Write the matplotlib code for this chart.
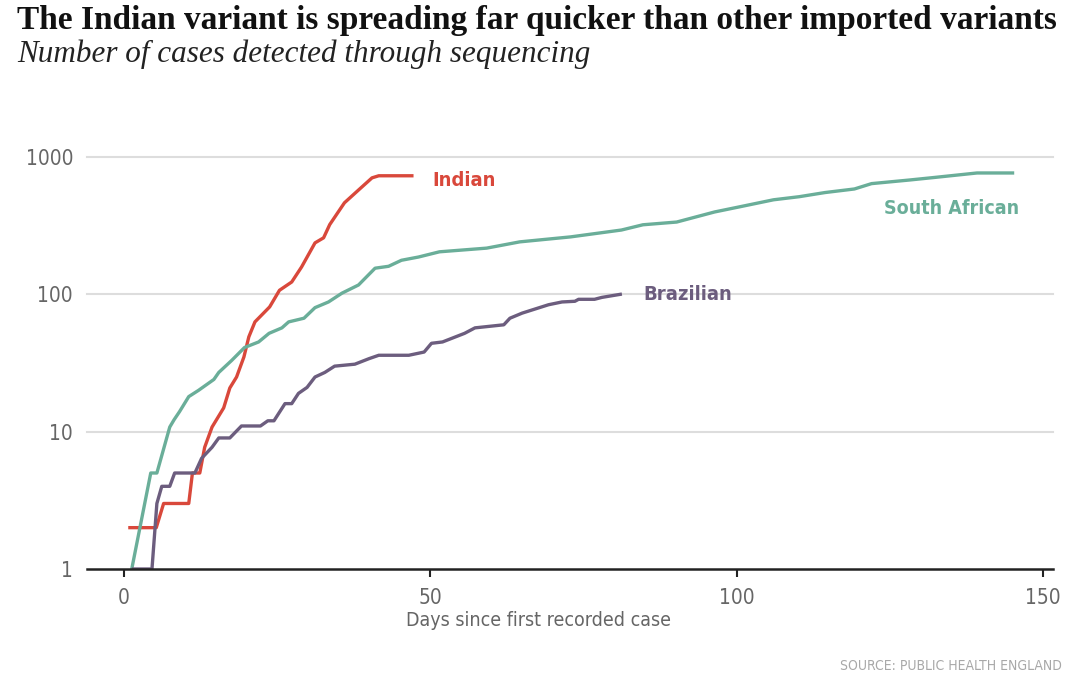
import numpy as np
import matplotlib.pyplot as plt

# cases detected through sequencing
indian_days = [1, 5.3, 6.5, 10.6, 11.2, 12.4, 13.2, 14.4, 16.3, 17.3, 18.4, 19.6, 20.4, 21.4,
               23.8, 25.4, 27.4, 29, 31.2, 32.6, 33.6, 36, 38.3, 40.5, 41.6, 47]
indian_cases = [2, 2, 3, 3, 5, 5, 7.7, 10.8, 14.9, 20.8, 25, 35, 49, 63,
                81, 107, 123, 158, 237, 258, 322, 464, 575, 705, 730, 730]

sa_days = [1.3, 4.4, 5.4, 7.5, 8.2, 9.1, 10.6, 12.2, 14.7, 15.5, 17.6, 19.7, 22, 23.7, 25.8,
           26.9, 29.4, 31.2, 33.4, 35.6, 38.3, 39.6, 41, 43.2, 45.3, 48.1, 51.5, 59.2, 64.6,
           72.9, 81.2, 84.7, 90.2, 96.4, 100.5, 106, 110.2, 114.4, 119.2, 122, 128.2, 132.3,
           139.2, 145]
sa_cases = [1, 5, 5, 10.8, 12.2, 14, 18, 20, 24, 27, 33, 41, 45, 52, 57,
            63, 67, 80, 88, 102, 117, 134, 155, 160, 177, 187, 204, 217, 241,
            262, 294, 321, 336, 398, 434, 488, 514, 551, 585, 640, 680, 710,
            765, 765]

br_days = [1.6, 4.6, 5.4, 6.2, 7.5, 8.3, 11.6, 12.7, 14.4, 15.5, 17.3, 19.2, 22.3, 23.5, 24.5,
           26.3, 27.4, 28.5, 29.9, 31.2, 32.8, 34.4, 37.7, 40, 41.6, 46.5, 49, 50.2, 52,
           55.6, 57.3, 62, 63, 65, 69.3, 71.5, 73.6, 74.2, 76.8, 78, 81]
br_cases = [1, 1, 3, 4, 4, 5, 5, 6.4, 7.7, 9, 9, 11, 11, 12, 12,
            16, 16, 19, 21, 25, 27, 30, 31, 34, 36, 36, 38, 44, 45,
            52, 57, 60, 67, 73, 84, 88, 89, 92, 92, 95, 100]

xticks = [0, 50, 100, 150]
yticks = [1, 10, 100, 1000]

red = '#d9483b'
green = '#6aae99'
purple = '#6c5d7e'
grey = '#666666'

fig = plt.figure(figsize=(10.8, 6.97), dpi=100)
ax = fig.add_axes([87/1080, 1-569/697, (1053-87)/1080, (569-157)/697])

ax.plot(indian_days, indian_cases, color=red, lw=2.4, solid_joinstyle='round', zorder=3)
ax.plot(sa_days, sa_cases, color=green, lw=2.4, solid_joinstyle='round', zorder=3)
ax.plot(br_days, br_cases, color=purple, lw=2.4, solid_joinstyle='round', zorder=3)

ax.set_yscale('log')
ax.set_ylim(1, 1000)
ax.set_xlim(-6.0, 151.6)
ax.set_yticks(yticks)
ax.set_yticklabels([str(t) for t in yticks])
ax.minorticks_off()
ax.set_xticks(xticks)
ax.set_xticklabels([str(t) for t in xticks])

for t in yticks[1:]:
    ax.axhline(t, color='#dddddd', lw=1.5, zorder=1, clip_on=False)

for s in ['top', 'right', 'left']:
    ax.spines[s].set_visible(False)
ax.spines['bottom'].set_linewidth(1.8)
ax.spines['bottom'].set_color('#222222')
ax.spines['bottom'].set_zorder(4)
ax.tick_params(axis='y', length=0, pad=10, labelsize=15, labelcolor=grey)
ax.tick_params(axis='x', length=6, width=1.5, color='#222222', pad=8, labelsize=15, labelcolor=grey)
for lab in ax.get_xticklabels() + ax.get_yticklabels():
    lab.set_fontstretch('condensed')

ax.text(50.3, 680, 'Indian', color=red, fontsize=14.5, fontweight='bold',
        fontstretch='condensed', va='center', ha='left')
ax.text(146, 420, 'South African', color=green, fontsize=14, fontweight='bold',
        fontstretch='condensed', va='center', ha='right')
ax.text(84.8, 100, 'Brazilian', color=purple, fontsize=14.5, fontweight='bold',
        fontstretch='condensed', va='center', ha='left')

fig.text(539/1080, 1-620/697, 'Days since first recorded case', color=grey, fontsize=14,
         fontstretch='condensed', ha='center', va='center')

fig.text(17/1080, 1-21/697, 'The Indian variant is spreading far quicker than other imported variants',
         family='Liberation Serif', fontweight='bold', fontsize=24, color='#111111',
         ha='left', va='center')
fig.text(17/1080, 1-54/697, 'Number of cases detected through sequencing',
         family='Liberation Serif', style='italic', fontsize=22.4, color='#222222',
         ha='left', va='center')
fig.text(1062/1080, 1-666/697, 'SOURCE: PUBLIC HEALTH ENGLAND', color='#a8a8a8', fontsize=10,
         fontstretch='condensed', ha='right', va='center')

fig.savefig('out.png', dpi=100)
